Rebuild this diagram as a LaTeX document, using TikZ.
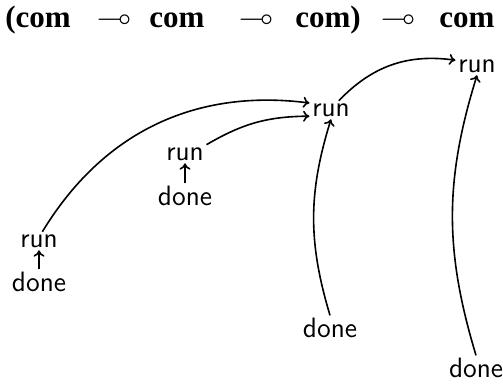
\documentclass[tikz,border=0pt]{standalone}
\usepackage{amsmath}
\usepackage{amssymb}
\usepackage{fontspec}
\setmainfont{Liberation Serif}
\usepackage{tikz}
\usetikzlibrary{arrows.meta,positioning}

\begin{document}
\begin{tikzpicture}[x=0.5pt,y=0.5pt,line width=0.8pt,>={To[length=3.2pt,width=5.5pt]},
   lbl/.style={font=\sffamily\fontsize{14}{16}\selectfont,inner sep=1pt},
   typ/.style={font=\bfseries\fontsize{15.5}{18}\selectfont,anchor=base,inner sep=1pt},
   lolli/.style={font=\fontsize{15.5}{18}\selectfont,anchor=base,inner sep=1pt}]
  \useasboundingbox (0,0) rectangle (503,386);
  \node[typ]   (c1) at (38,358)  {(com};
  \node[lolli] (m1) at (114,358) {$\multimap$};
  \node[typ]   (c2) at (177,358) {com};
  \node[lolli] (m2) at (256,358) {$\multimap$};
  \node[typ]   (c3) at (328,358) {com)};
  \node[lolli] (m3) at (398,358) {$\multimap$};
  \node[typ]   (c4) at (467,358) {com};
  \node[lbl] (r1) at (39,145)  {run};
  \node[lbl] (d1) at (39,104)  {done};
  \node[lbl] (r2) at (185,232) {run};
  \node[lbl] (d2) at (185,190) {done};
  \node[lbl] (r3) at (331,276) {run};
  \node[lbl] (d3) at (330,58)  {done};
  \node[lbl] (r4) at (477,320) {run};
  \node[lbl] (d4) at (476,18)  {done};
  \draw[->] (d1) -- (r1);
  \draw[->] (d2) -- (r2);
  \draw[->] (r1.70) to[bend left=33] (r3.162);
  \draw[->] (r2.north east) to[bend left=15] (r3.196);
  \draw[->] (r3.50) to[bend left=27] (r4.165);
  \draw[->] (d3.north) to[bend left=17] (r3.south);
  \draw[->] (d4.north) to[bend left=17] (r4.south);
\end{tikzpicture}
\end{document}
